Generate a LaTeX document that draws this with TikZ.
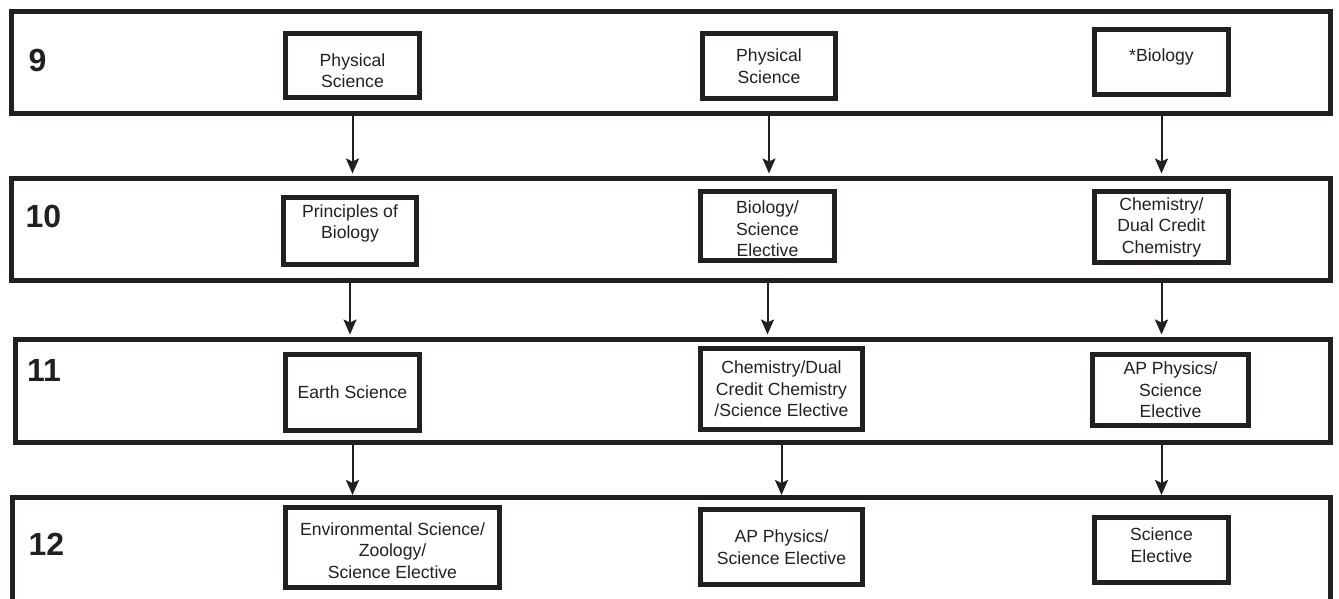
\documentclass[tikz,border=0pt]{standalone}
\usepackage{fontspec}
\setmainfont{Liberation Sans}
\usetikzlibrary{arrows.meta}
\definecolor{ink}{RGB}{35,31,32}
% struts to move text inside a box: \dn{h} on the first line, \up{d} on the last line
\newcommand\dnstrut[1]{\rule{0pt}{#1}}
\newcommand\upstrut[1]{\rule[-#1]{0pt}{0pt}}
\begin{document}
\begin{tikzpicture}[x=1pt,y=-1pt,
  grade/.style={draw=ink,line width=5pt,rectangle,inner sep=0pt},
  course/.style={draw=ink,line width=5pt,rectangle,inner sep=0pt,align=center,
    font=\fontsize{17.6}{21.5}\selectfont,text=ink},
  num/.style={inner sep=0pt,font=\fontsize{32}{32}\selectfont\bfseries,text=ink},
  arr/.style={draw=ink,line width=2pt,-{Stealth[length=15pt,width=13pt,inset=3pt]},shorten >=2.5pt}]
\useasboundingbox (0,0) rectangle (1339,599);
\clip (0,0) rectangle (1339,599);

% grade containers
\node[grade,minimum width=1319.5pt,minimum height=102pt] (r9) at (670.75,63) {};
\node[grade,minimum width=1319pt,minimum height=102pt] (r10) at (671,229.5) {};
\node[grade,minimum width=1315pt,minimum height=103pt] (r11) at (673,391) {};
\coordinate (r12w) at (12.5,497.5);
\coordinate (r12e) at (1330.5,497.5);
\coordinate (r12wb) at (12.5,640);
\coordinate (r12eb) at (1330.5,640);
\draw[draw=ink,line width=5pt] (r12wb) -- (r12w) -- (r12e) -- (r12eb);

% grade numbers
\node[num] (n9) at (37.5,60) {9};
\node[num] (n10) at (43.5,216) {10};
\node[num] (n11) at (44,370) {11};
\node[num] (n12) at (46.5,544) {12};

% grade 9
\node[course,minimum width=134pt,minimum height=64pt] (b91) at (352.5,65.5) {\dnstrut{23pt}Physical\\Science};
\node[course,minimum width=133pt,minimum height=65pt] (b92) at (769,66) {Physical\\Science};
\node[course,minimum width=134pt,minimum height=65pt] (b93) at (1161.5,62) {*Biology\upstrut{13.5pt}};

% grade 10
\node[course,minimum width=133pt,minimum height=67pt] (b101) at (350,231) {Principles of\\Biology\upstrut{18.5pt}};
\node[course,minimum width=134pt,minimum height=69pt] (b102) at (767.5,226) {\dnstrut{19pt}Biology/\\Science\\Elective};
\node[course,minimum width=134pt,minimum height=71pt] (b103) at (1161.5,227) {Chemistry/\\Dual Credit\\Chemistry};

% grade 11
\node[course,minimum width=134pt,minimum height=76pt] (b111) at (352.5,392.5) {Earth Science};
\node[course,minimum width=162pt,minimum height=81pt] (b112) at (781.5,389) {Chemistry/Dual\\Credit Chemistry\\/Science Elective};
\node[course,minimum width=156pt,minimum height=71pt] (b113) at (1170.5,390) {AP Physics/\\Science\\Elective};

% grade 12
\node[course,minimum width=214pt,minimum height=80pt] (b121) at (392.5,547.5) {\dnstrut{19pt}Environmental Science/\\Zoology/\\Science Elective};
\node[course,minimum width=162pt,minimum height=75pt] (b122) at (781.5,547) {AP Physics/\\Science Elective};
\node[course,minimum width=134pt,minimum height=65pt] (b123) at (1161.5,550) {Science\\Elective\upstrut{10pt}};

% arrows
\draw[arr] (b91 |- r9.south) -- (b91 |- r10.north);
\draw[arr] (b92 |- r9.south) -- (b92 |- r10.north);
\draw[arr] (b93 |- r9.south) -- (b93 |- r10.north);
\draw[arr] (b101 |- r10.south) -- (b101 |- r11.north);
\draw[arr] (b102 |- r10.south) -- (b102 |- r11.north);
\draw[arr] (b103 |- r10.south) -- (b103 |- r11.north);
\draw[arr] (b111 |- r11.south) -- (b111 |- r12w);
\draw[arr] (b112 |- r11.south) -- (b112 |- r12w);
\draw[arr] (b123 |- r11.south) -- (b123 |- r12w);
\end{tikzpicture}
\end{document}
